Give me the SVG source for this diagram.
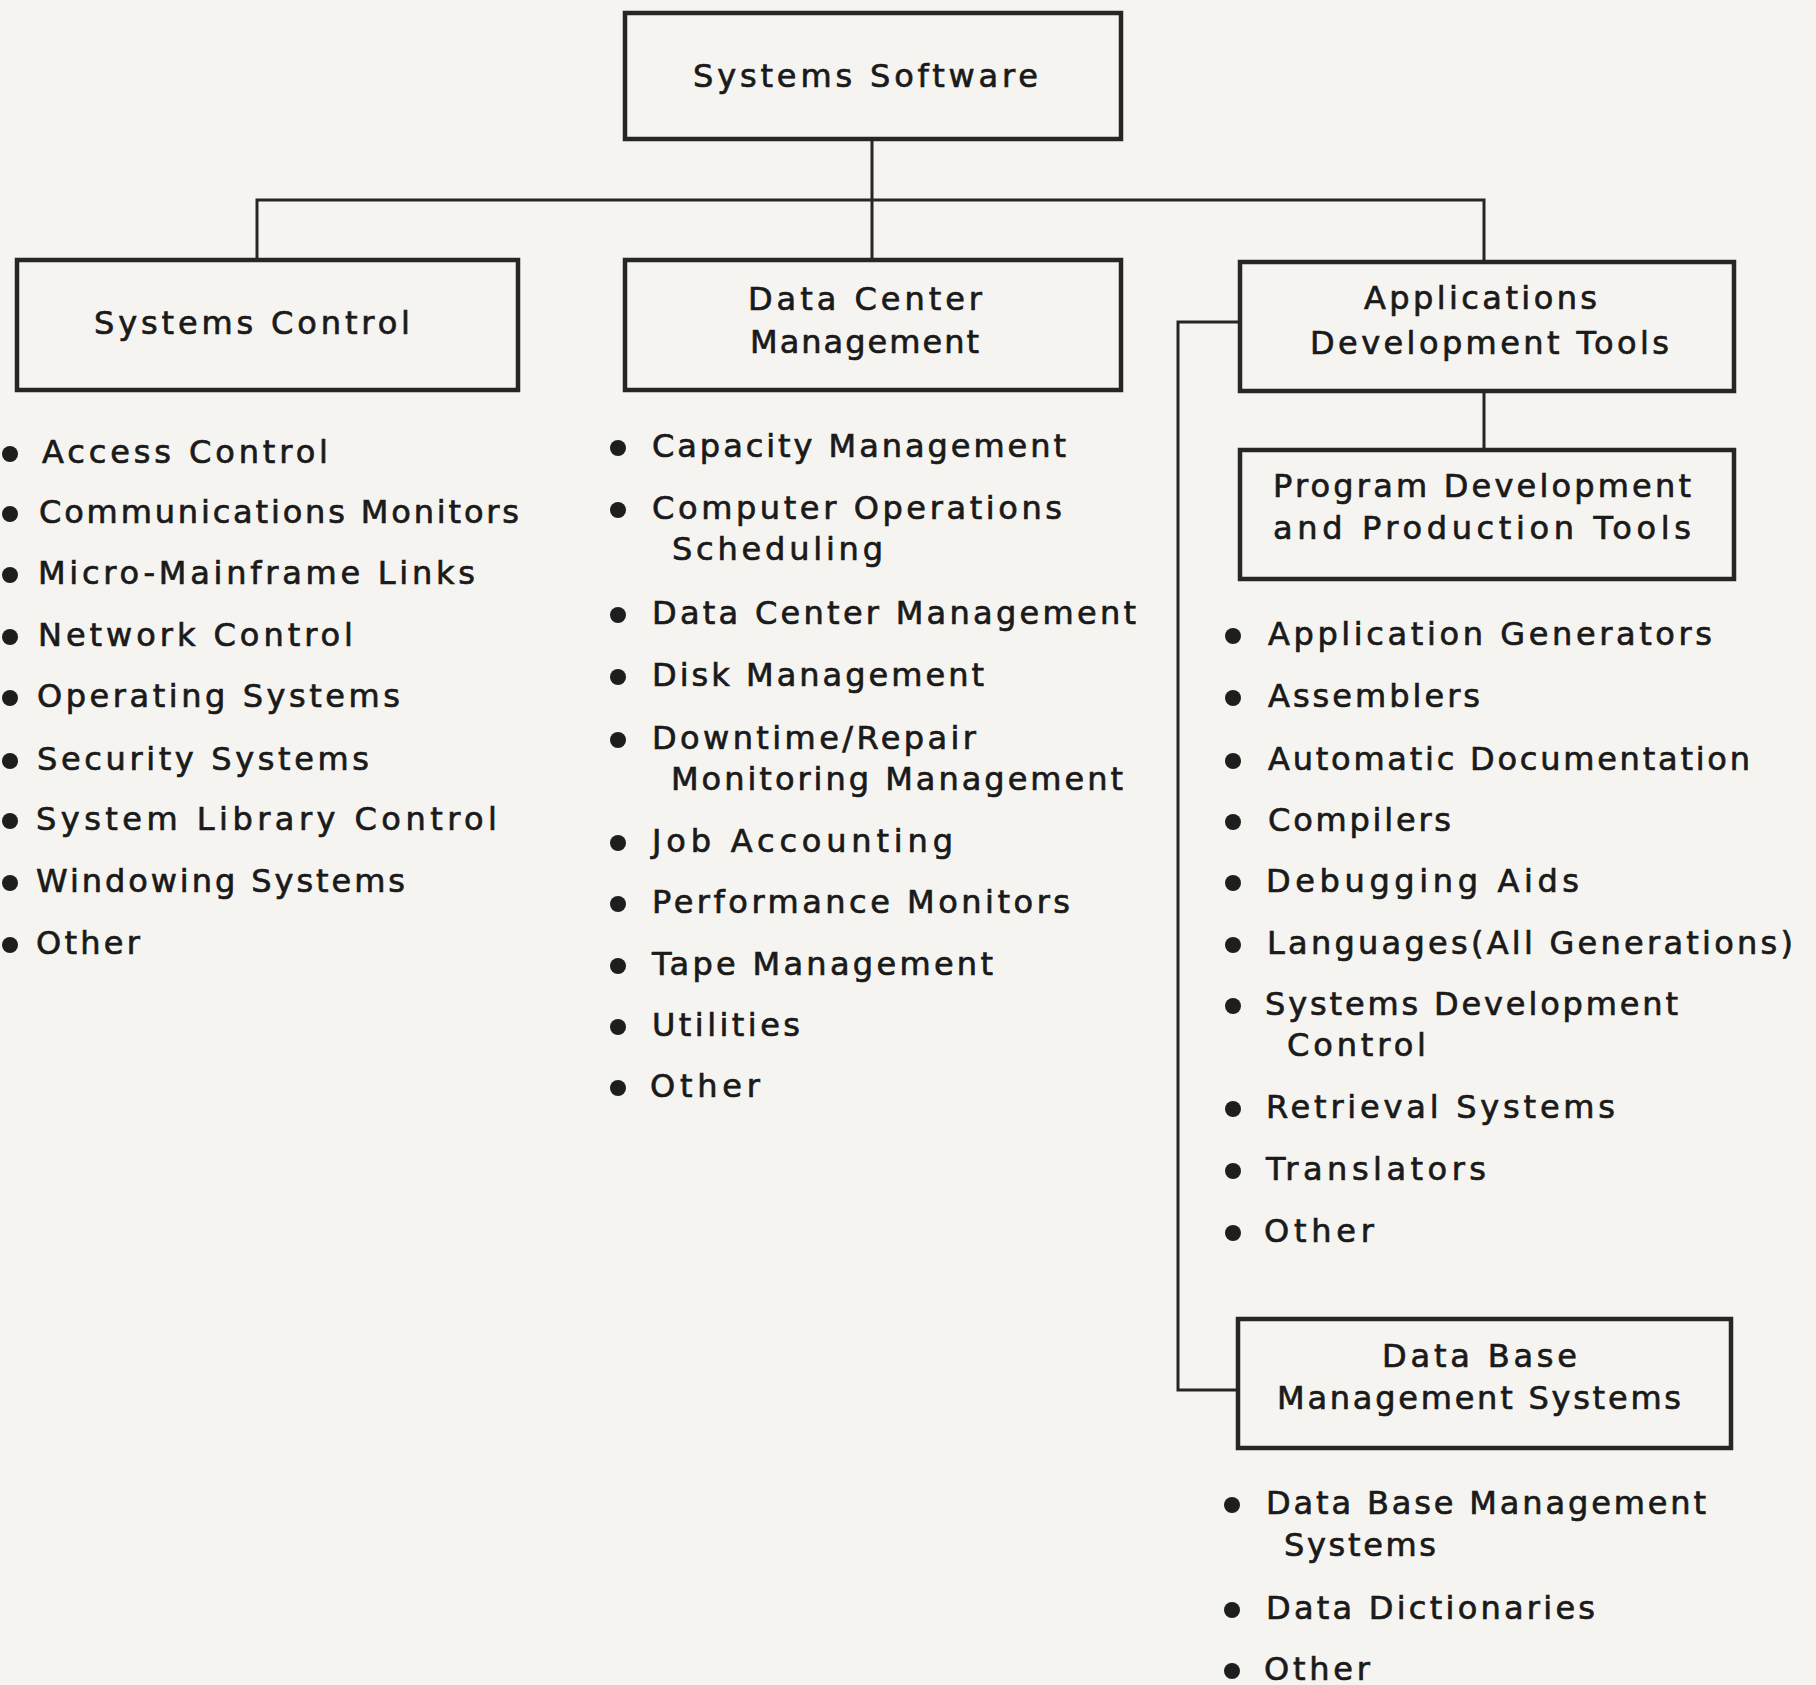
<svg xmlns="http://www.w3.org/2000/svg" width="1816" height="1685" viewBox="0 0 1816 1685">
<style>
.bg{fill:#f6f4f0}
.box{fill:none;stroke:#262626;stroke-width:4.5}
.con{fill:none;stroke:#262626;stroke-width:3}
text{font-family:"DejaVu Sans","Liberation Sans",Arial,sans-serif;font-size:32px;fill:#1a1a1a;stroke:#1a1a1a;stroke-width:0.7}
.b{fill:#1e1e1e}
</style>
<rect class="bg" x="0" y="0" width="1816" height="1685"/>
<g id="connectors">
<polyline class="con" points="257,259 257,200 1484,200 1484,262"/>
<line class="con" x1="872" y1="139" x2="872" y2="259"/>
<line class="con" x1="1484" y1="391" x2="1484" y2="449"/>
<polyline class="con" points="1240,322 1178,322 1178,1390 1238,1390"/>
</g>
<g id="systems-software">
<rect class="box" x="625" y="13" width="496" height="126"/>
<text x="693" y="87" textLength="345" lengthAdjust="spacing">Systems Software</text>
</g>
<g id="systems-control">
<rect class="box" x="17" y="260" width="501" height="130"/>
<text x="94" y="334" textLength="316" lengthAdjust="spacing">Systems Control</text>
</g>
<g id="data-center-management">
<rect class="box" x="625" y="260" width="496" height="130"/>
<text x="748" y="310" textLength="234" lengthAdjust="spacing">Data Center</text>
<text x="750" y="353" textLength="229" lengthAdjust="spacing">Management</text>
</g>
<g id="applications-development-tools">
<rect class="box" x="1240" y="262" width="494" height="129"/>
<text x="1364" y="309" textLength="233" lengthAdjust="spacing">Applications</text>
<text x="1310" y="354" textLength="359" lengthAdjust="spacing">Development Tools</text>
</g>
<g id="program-development">
<rect class="box" x="1240" y="450" width="494" height="129"/>
<text x="1273" y="497" textLength="418" lengthAdjust="spacing">Program Development</text>
<text x="1273" y="539" textLength="418" lengthAdjust="spacing">and Production Tools</text>
</g>
<g id="dbms">
<rect class="box" x="1238" y="1319" width="493" height="129"/>
<text x="1382" y="1367" textLength="195" lengthAdjust="spacing">Data Base</text>
<text x="1277" y="1409" textLength="404" lengthAdjust="spacing">Management Systems</text>
</g>
<g id="systems-control-items">
<circle class="b" cx="10" cy="454" r="8"/><text x="42" y="463" textLength="286" lengthAdjust="spacing">Access Control</text>
<circle class="b" cx="10" cy="514" r="8"/><text x="39" y="523" textLength="480" lengthAdjust="spacing">Communications Monitors</text>
<circle class="b" cx="10" cy="575" r="8"/><text x="38" y="584" textLength="437" lengthAdjust="spacing">Micro-Mainframe Links</text>
<circle class="b" cx="10" cy="637" r="8"/><text x="38" y="646" textLength="315" lengthAdjust="spacing">Network Control</text>
<circle class="b" cx="10" cy="698" r="8"/><text x="37" y="707" textLength="363" lengthAdjust="spacing">Operating Systems</text>
<circle class="b" cx="10" cy="761" r="8"/><text x="37" y="770" textLength="332" lengthAdjust="spacing">Security Systems</text>
<circle class="b" cx="10" cy="821" r="8"/><text x="36" y="830" textLength="461" lengthAdjust="spacing">System Library Control</text>
<circle class="b" cx="10" cy="883" r="8"/><text x="36" y="892" textLength="369" lengthAdjust="spacing">Windowing Systems</text>
<circle class="b" cx="10" cy="945" r="8"/><text x="36" y="954" textLength="104" lengthAdjust="spacing">Other</text>
</g>
<g id="data-center-items">
<circle class="b" cx="618" cy="448" r="8"/><text x="652" y="457" textLength="414" lengthAdjust="spacing">Capacity Management</text>
<circle class="b" cx="618" cy="510" r="8"/><text x="652" y="519" textLength="410" lengthAdjust="spacing">Computer Operations</text>
<text x="672" y="560" textLength="211" lengthAdjust="spacing">Scheduling</text>
<circle class="b" cx="618" cy="615" r="8"/><text x="652" y="624" textLength="484" lengthAdjust="spacing">Data Center Management</text>
<circle class="b" cx="618" cy="677" r="8"/><text x="652" y="686" textLength="332" lengthAdjust="spacing">Disk Management</text>
<circle class="b" cx="618" cy="740" r="8"/><text x="652" y="749" textLength="324" lengthAdjust="spacing">Downtime/Repair</text>
<text x="671" y="790" textLength="452" lengthAdjust="spacing">Monitoring Management</text>
<circle class="b" cx="618" cy="843" r="8"/><text x="652" y="852" textLength="301" lengthAdjust="spacing">Job Accounting</text>
<circle class="b" cx="618" cy="904" r="8"/><text x="652" y="913" textLength="418" lengthAdjust="spacing">Performance Monitors</text>
<circle class="b" cx="618" cy="966" r="8"/><text x="652" y="975" textLength="341" lengthAdjust="spacing">Tape Management</text>
<circle class="b" cx="618" cy="1027" r="8"/><text x="652" y="1036" textLength="148" lengthAdjust="spacing">Utilities</text>
<circle class="b" cx="618" cy="1088" r="8"/><text x="650" y="1097" textLength="110" lengthAdjust="spacing">Other</text>
</g>
<g id="program-development-items">
<circle class="b" cx="1233" cy="636" r="8"/><text x="1268" y="645" textLength="444" lengthAdjust="spacing">Application Generators</text>
<circle class="b" cx="1233" cy="698" r="8"/><text x="1268" y="707" textLength="212" lengthAdjust="spacing">Assemblers</text>
<circle class="b" cx="1233" cy="761" r="8"/><text x="1268" y="770" textLength="482" lengthAdjust="spacing">Automatic Documentation</text>
<circle class="b" cx="1233" cy="822" r="8"/><text x="1268" y="831" textLength="183" lengthAdjust="spacing">Compilers</text>
<circle class="b" cx="1233" cy="883" r="8"/><text x="1266" y="892" textLength="313" lengthAdjust="spacing">Debugging Aids</text>
<circle class="b" cx="1233" cy="945" r="8"/><text x="1267" y="954" textLength="526" lengthAdjust="spacing">Languages(All Generations)</text>
<circle class="b" cx="1233" cy="1006" r="8"/><text x="1265" y="1015" textLength="413" lengthAdjust="spacing">Systems Development</text>
<text x="1287" y="1056" textLength="139" lengthAdjust="spacing">Control</text>
<circle class="b" cx="1233" cy="1109" r="8"/><text x="1266" y="1118" textLength="349" lengthAdjust="spacing">Retrieval Systems</text>
<circle class="b" cx="1233" cy="1171" r="8"/><text x="1266" y="1180" textLength="220" lengthAdjust="spacing">Translators</text>
<circle class="b" cx="1233" cy="1233" r="8"/><text x="1264" y="1242" textLength="110" lengthAdjust="spacing">Other</text>
</g>
<g id="dbms-items">
<circle class="b" cx="1232" cy="1505" r="8"/><text x="1266" y="1514" textLength="440" lengthAdjust="spacing">Data Base Management</text>
<text x="1284" y="1556" textLength="152" lengthAdjust="spacing">Systems</text>
<circle class="b" cx="1232" cy="1610" r="8"/><text x="1266" y="1619" textLength="329" lengthAdjust="spacing">Data Dictionaries</text>
<circle class="b" cx="1232" cy="1671" r="8"/><text x="1264" y="1680" textLength="106" lengthAdjust="spacing">Other</text>
</g>
</svg>
